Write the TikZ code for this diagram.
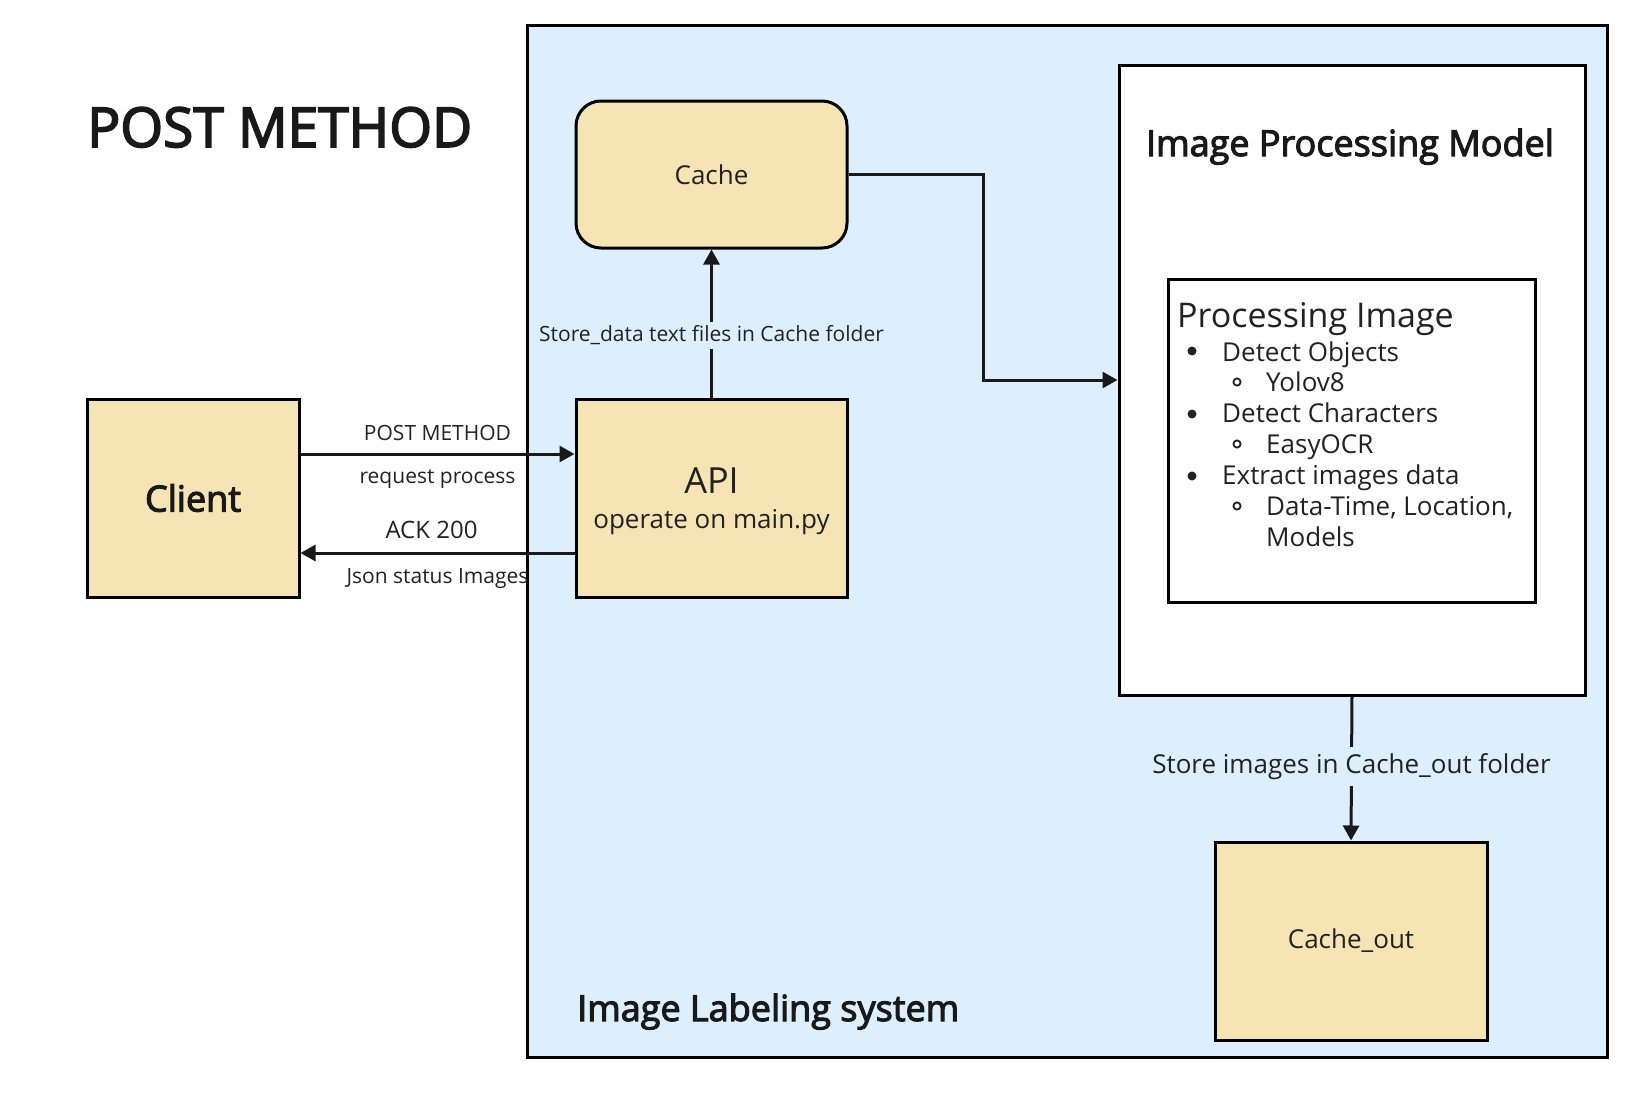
\documentclass[tikz,border=0pt]{standalone}
\usepackage{fontspec}
\setmainfont{Open Sans}
\newfontfamily\headfont[FakeBold=3]{Open Sans}
\usetikzlibrary{arrows.meta}
\definecolor{sysblue}{HTML}{DDEFFD}
\definecolor{cacheyellow}{HTML}{F7E4B5}
\definecolor{inkgray}{HTML}{222222}
\tikzset{store/.style={draw=black, line width=3pt, fill=cacheyellow, text=inkgray, inner sep=0pt},
 frame/.style={draw=black, line width=3pt, fill=white, inner sep=0pt},
 link/.style={draw=black!90, line width=3pt, -{Triangle[length=15pt,width=16pt]}},
 small/.style={font=\fontsize{21}{25}\selectfont, text=inkgray, inner sep=0pt},
 normal/.style={font=\fontsize{26}{31}\selectfont, text=inkgray, inner sep=0pt},
 heading/.style={font=\headfont\fontsize{36}{40}\selectfont, text=black!90, inner sep=0pt},
 }

\begin{document}
\begin{tikzpicture}[x=1pt, y=-1pt]
        \useasboundingbox (0,0) rectangle (1650,1100);
        % system frame
        \node[frame, fill=sysblue, minimum width=1080pt, minimum height=1032pt] (system) at (1067,541) {};
        \node[heading, anchor=base west] (systitle) at (577,1021) {Image Labeling system};
        \node[heading, font=\headfont\fontsize{55}{60}\selectfont, anchor=base west] (title) at (87,147) {POST METHOD};
        % boxes
        \node[store, heading, minimum width=212pt, minimum height=198pt] (client) at (193,498) {Client};
        \node[store, normal, font=\fontsize{26}{35}\selectfont, align=center, minimum width=271pt, minimum height=198pt] (api) at (711.5,498)
            {\rule{0pt}{32pt}{\fontsize{36}{35}\selectfont API}\\operate on main.py};
        \node[store, normal, rounded corners=25pt, minimum width=271pt, minimum height=147pt] (cache) at (711.5,174.5) {Cache};
        \node[store, normal, minimum width=272pt, minimum height=198pt] (cacheout) at (1351,941) {Cache\_out};
        \node[frame, minimum width=466pt, minimum height=630pt] (ipm) at (1352,380) {};
        \node[heading, anchor=base] (ipmtitle) at (1350,156) {Image Processing Model};
        \node[frame, minimum width=367pt, minimum height=323pt] (proc) at (1351.5,440.5) {};
        \node[normal, font=\fontsize{34}{38}\selectfont, anchor=base west] (proctitle) at (1177,327) {Processing Image};
        % list
        \foreach \tx/\ty/\txt [count=\i] in {1222/361/Detect Objects, 1266/391.5/Yolov8,
            1222/422/Detect Characters, 1266/453.5/EasyOCR, 1222/484/Extract images data,
            1266/515.5/{Data-Time, Location,}, 1266/546/Models} {
            \node[normal, anchor=base west] (item\i) at (\tx,\ty) {\txt};
        }
        \foreach \y in {351,414,476} {
            \fill[inkgray] (1192,\y) circle (4.5pt);
        }
        \foreach \y in {382,444,506} {
            \draw[inkgray, line width=1.8pt] (1237,\y) circle (3.6pt);
        }
        % connectors
        \draw[link] ([yshift=44pt]client.east) -- ([yshift=44pt]api.west)
            node[small, midway, above=12pt] (postlbl) {POST METHOD}
            node[small, midway, below=14pt] (reqlbl) {request process};
        \draw[link] ([yshift=-55pt]api.west) -- ([yshift=-55pt]client.east)
            node[small, font=\fontsize{24}{28}\selectfont, midway, above=13pt, xshift=-6pt] (acklbl) {ACK 200}
            node[small, midway, below=14pt] (jsonlbl) {Json status Images};
        \draw[link] (api.north) -- (cache.south)
            node[small, fill=sysblue, inner sep=4pt, pos=0.42] (storelbl) {Store\_data text files in Cache folder};
        \draw[link] (cache.east) -- ++(135,0) |- (ipm.west);
        \draw[link] (ipm.south) -- (cacheout.north)
            node[normal, fill=sysblue, inner sep=6pt, midway, yshift=2pt] (outlbl) {Store images in Cache\_out folder};
    \end{tikzpicture}
\end{document}
